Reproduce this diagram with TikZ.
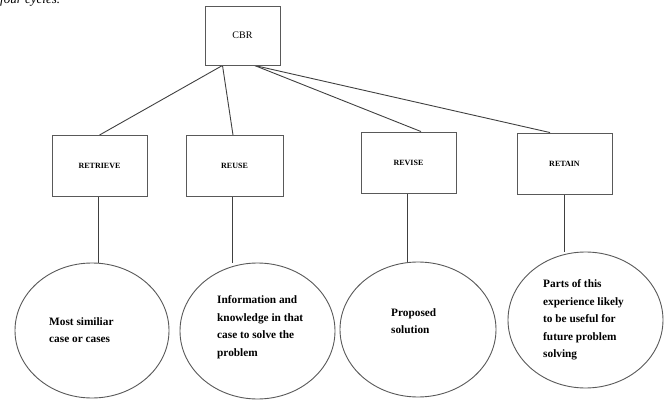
\documentclass[tikz,border=0pt]{standalone}
\usepackage{fontspec}
\setmainfont{Liberation Serif}
\usetikzlibrary{backgrounds,shapes.geometric}
\begin{document}
\begin{tikzpicture}[x=1pt,y=-1pt,
  conn/.style={draw=black!75,line width=0.9pt},
  cbox/.style={draw=black!65,line width=0.9pt,fill=white,inner sep=0pt},
  phase/.style={cbox,minimum width=95pt,minimum height=61pt,font=\fontsize{8}{9}\selectfont\bfseries},
  oval/.style={draw=black!65,line width=0.9pt,fill=white,ellipse,inner sep=0pt},
  otext/.style={anchor=west,align=left,inner sep=0pt,font=\fontsize{11.3}{17.5}\selectfont\bfseries}]
\useasboundingbox (0,0) rectangle (670,401);
\begin{scope}
\clip (0,0) rectangle (670,401);
\node[anchor=base west,inner sep=0pt,font=\fontsize{13}{15}\selectfont\itshape] (top) at (0,4) {four cycles.};
\end{scope}
\node[cbox,minimum width=75pt,minimum height=59pt,font=\fontsize{10}{12}\selectfont] (cbr) at (242.5,35.5) {CBR};
\node[phase] (r1) at (99.5,166) {RETRIEVE};
\node[phase,minimum width=97pt] (r2) at (234.5,166) {REUSE};
\node[phase] (r3) at (408.5,162.5) {REVISE};
\node[phase] (r4) at (564.5,163.5) {RETAIN};
\node[oval,minimum width=154pt,minimum height=135pt] (e1) at (92,330.5) {};
\node[oval,minimum width=155pt,minimum height=136pt] (e2) at (257.5,331) {};
\node[oval,minimum width=156pt,minimum height=135pt] (e3) at (418,329.5) {};
\node[oval,minimum width=155pt,minimum height=136pt] (e4) at (585.5,320) {};
\node[otext] (t1) at (49,330) {Most similiar\\case or cases};
\node[otext] (t2) at (217,327) {Information and\\knowledge in that\\case to solve the\\problem};
\node[otext] (t3) at (391,321) {Proposed\\solution};
\node[otext] (t4) at (543,320) {Parts of this\\experience likely\\to be useful for\\future problem\\solving};
\begin{pgfonlayer}{background}
\draw[conn] ([xshift=-20pt]cbr.south) -- (r1.north);
\draw[conn] ([xshift=-20pt]cbr.south) -- ([xshift=-1.5pt]r2.north);
\draw[conn] ([xshift=12pt]cbr.south) -- ([xshift=12.5pt]r3.north);
\draw[conn] ([xshift=12pt]cbr.south) -- ([xshift=-14.5pt]r4.north);
\draw[conn] ([xshift=-1.5pt]r1.south) -- ([xshift=-1.5pt]r1.south |- e1.north);
\draw[conn] ([xshift=-2.5pt]r2.south) -- ([xshift=-2.5pt]r2.south |- e2.north);
\draw[conn] ([xshift=-1.5pt]r3.south) -- ([xshift=-1.5pt]r3.south |- e3.north);
\draw[conn] (r4.south) -- (r4.south |- e4.north);
\end{pgfonlayer}
\end{tikzpicture}
\end{document}
